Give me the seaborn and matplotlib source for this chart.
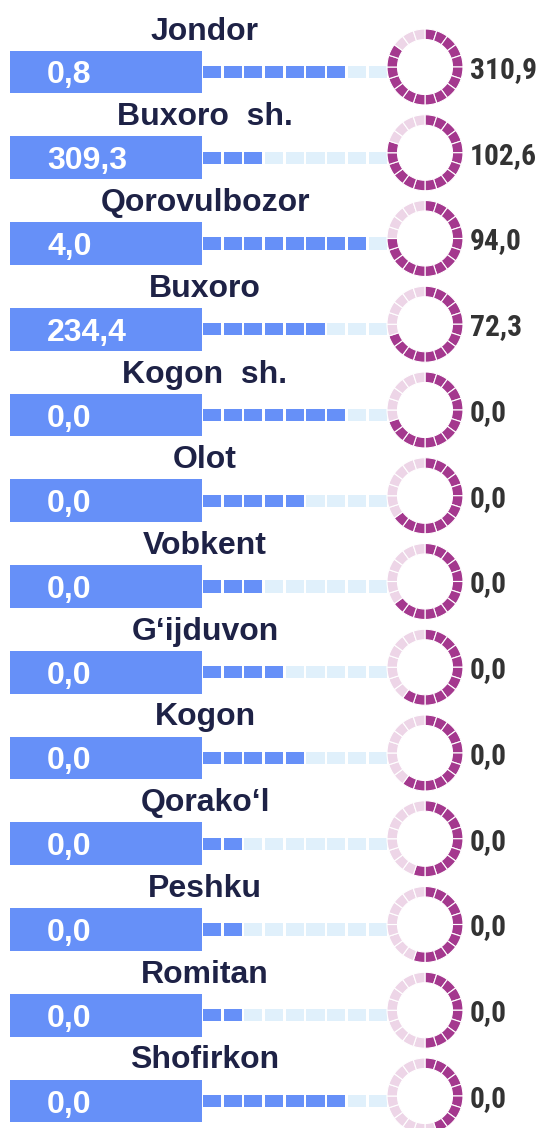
import pandas as pd
import seaborn as sns
import matplotlib.pyplot as plt
from matplotlib import font_manager
from matplotlib.font_manager import FontProperties

# data
names = ['Jondor', 'Buxoro  sh.', 'Qorovulbozor', 'Buxoro', 'Kogon  sh.', 'Olot',
         'Vobkent', 'G‘ijduvon', 'Kogon', 'Qorako‘l', 'Peshku', 'Romitan', 'Shofirkon']
bar_values = [0.8, 309.3, 4.0, 234.4, 0.0, 0.0, 0.0, 0.0, 0.0, 0.0, 0.0, 0.0, 0.0]
ring_values = [310.9, 102.6, 94.0, 72.3, 0.0, 0.0, 0.0, 0.0, 0.0, 0.0, 0.0, 0.0, 0.0]
dash_on = [7, 3, 8, 6, 7, 5, 3, 4, 5, 2, 2, 2, 7]          # of 9 squares
ring_on = [17, 16, 15, 14, 14, 13, 13, 12, 12, 11, 11, 10, 9]  # of 20 segments
n_dash = 9
n_ring = 20

BLUE = '#6690F8'
LIGHT = '#E0F0FB'
PURPLE = '#A4388E'
PINK = '#EDD5E7'
NAVY = '#1E2246'
GREY = '#333333'

sns.set_theme(style='white')
plt.rcParams['font.family'] = ['Liberation Sans', 'DejaVu Sans']


def pick_narrow():
    # look for a condensed bold face for the right-hand numbers
    fonts = font_manager.fontManager.ttflist
    prefs = ['Liberation Sans Narrow', 'Arial Narrow', 'Roboto Condensed',
             'Open Sans Condensed', 'DejaVu Sans Condensed']
    for p in prefs:
        for f in fonts:
            if f.name == p and f.weight in (700, 'bold') and f.style == 'normal':
                return FontProperties(fname=f.fname)
    for f in fonts:
        if f.stretch in ('condensed', 'semi-condensed') and f.weight in (700, 'bold') \
                and f.style == 'normal':
            return FontProperties(fname=f.fname)
    return FontProperties(family='Liberation Sans', weight='bold')


def fmt(v):
    return f'{v:.1f}'.replace('.', ',')


W, H = 540, 1128
fig = plt.figure(figsize=(W / 100, H / 100), dpi=100)
ax = fig.add_axes([0, 0, 1, 1])

n = len(names)
first, step = 72, 85.75
yc = [H - (first + i * step) for i in range(n)]

# left blue bars
sns.barplot(x=[192] * n, y=yc, orient='h', native_scale=True, width=0.5,
            color=BLUE, saturation=1, linewidth=0, errorbar=None, ax=ax)

# dashed progress squares
rows = []
for i in range(n):
    for k in range(n_dash):
        rows.append({'x': 202 + k * 20.7, 'y': yc[i],
                     'state': 'on' if k < dash_on[i] else 'off'})
sq = pd.DataFrame(rows)
rect = [(-1.5, -1), (1.5, -1), (1.5, 1), (-1.5, 1), (-1.5, -1)]
sns.scatterplot(data=sq, x='x', y='y', hue='state',
                palette={'on': BLUE, 'off': LIGHT}, marker=rect, s=168,
                linewidth=0, legend=False, ax=ax)

# size of the right-hand numbers: the widest one should be ~67 px wide
narrow = pick_narrow()
probe = fig.text(0, 0, '310,9', fontproperties=narrow, fontsize=23)
w = probe.get_window_extent(fig.canvas.get_renderer()).width
probe.remove()
right_size = min(24, 23 * 67 / w)

# segmented rings
for i in range(n):
    cy = yc[i] + 5
    cols = [PURPLE if k < ring_on[i] else PINK for k in range(n_ring)]
    ax.pie([1] * n_ring, colors=cols, startangle=90, counterclock=False,
           radius=38, center=(415, cy), frame=True,
           wedgeprops=dict(width=10.5, edgecolor='white', linewidth=0.8))
    ax.text(460, cy, fmt(ring_values[i]), ha='left', va='center_baseline',
            fontproperties=narrow, fontsize=right_size, color=GREY)
    ax.text(195, yc[i] + 44, names[i], ha='center', va='center_baseline',
            fontsize=23, fontweight='bold', color=NAVY)
    ax.text(37, yc[i], fmt(bar_values[i]), ha='left', va='center_baseline',
            fontsize=23, fontweight='bold', color='white')

ax.set_aspect('auto')
ax.set_xlim(-10, W - 10)
ax.set_ylim(0, H)
ax.set_axis_off()

fig.savefig('out.png', dpi=100)
